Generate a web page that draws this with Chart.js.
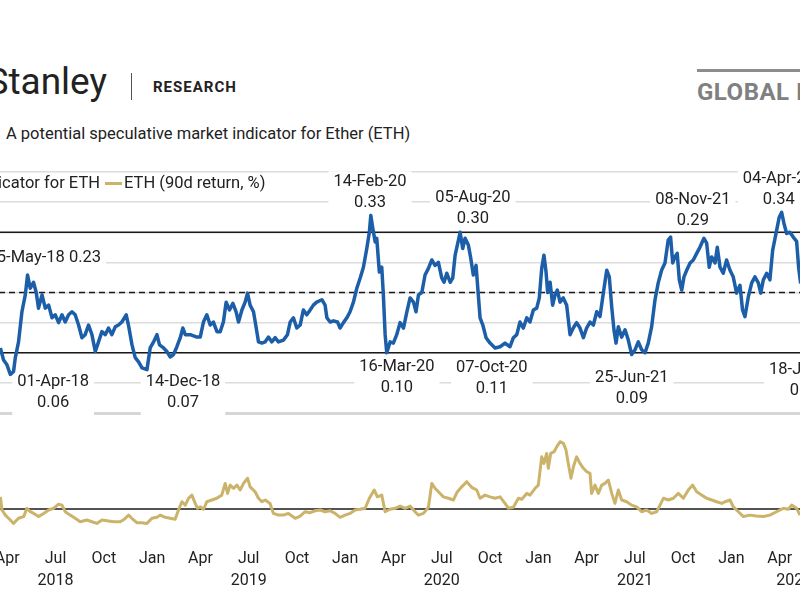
<!DOCTYPE html>
<html>
<head>
<meta charset="utf-8">
<script src="https://cdn.jsdelivr.net/npm/chart.js@4.4.1/dist/chart.umd.min.js"></script>
<style>
  body { margin:0; width:800px; height:600px; overflow:hidden; position:relative; background:#fff; font-family:Roboto, sans-serif; color:#222; }
  .abs { position:absolute; white-space:nowrap; }
</style>
</head>
<body>
<div class="abs" style="right:693px; top:62px; font-size:37px; line-height:40px; color:#222;">Morgan Stanley</div>
<div class="abs" style="left:131px; top:73px; width:1px; height:27px; background:#555;"></div>
<div class="abs" style="left:153px; top:78px; font-size:15px; line-height:18px; font-weight:bold; letter-spacing:1px;">RESEARCH</div>
<div class="abs" style="left:697px; top:69px; width:200px; height:3px; background:#8c8c8c;"></div>
<div class="abs" style="left:697px; top:78px; font-size:24px; line-height:28px; font-weight:bold; color:#808080; letter-spacing:0.5px;">GLOBAL INVESTMENT COMMITTEE</div>
<div class="abs" style="left:6px; top:124px; font-size:16.5px; line-height:20px;">A potential speculative market indicator for Ether (ETH)</div>

<div class="abs" style="left:-41px; top:162px; width:869px; height:258px;"><canvas id="topChart"></canvas></div>
<div class="abs" style="left:-41px; top:420px; width:869px; height:180px;"><canvas id="bottomChart"></canvas></div>

<div class="abs" style="right:700px; top:173px; font-size:16.5px; line-height:20px;">Speculative indicator for ETH</div>
<div class="abs" style="left:105px; top:182px; width:17px; height:3px; background:#cbb36a;"></div>
<div class="abs" style="left:124px; top:173px; font-size:16.5px; line-height:20px;">ETH (90d return, %)</div>

<script>
// x = months since Jan 2018
const monthMin = 0;
const monthMax = 54;

// speculative indicator for ETH
const indicatorMonths = [
  2.57, 2.77, 2.98, 3.19, 3.39, 3.50, 3.70, 3.91, 4.12, 4.26, 4.43, 4.63, 4.80, 4.94, 5.16, 5.36, 5.57, 5.78, 5.98, 6.19,
  6.40, 6.60, 6.81, 7.02, 7.22, 7.43, 7.64, 7.84, 8.05, 8.26, 8.47, 8.67, 8.88, 9.09, 9.29, 9.50, 9.71, 9.91, 10.12, 10.39,
  10.53, 10.75, 10.95, 11.16, 11.37, 11.68, 11.88, 12.09, 12.30, 12.46, 12.71, 12.92, 13.12, 13.33, 13.54, 13.75, 13.91, 14.06, 14.37, 14.78,
  14.99, 15.19, 15.40, 15.61, 15.81, 16.03, 16.23, 16.43, 16.60, 16.81, 17.02, 17.22, 17.37, 17.58, 17.78, 17.93, 18.09, 18.30, 18.47, 18.61,
  18.82, 19.02, 19.23, 19.44, 19.65, 19.85, 20.16, 20.41, 20.58, 20.78, 20.99, 21.20, 21.40, 21.61, 21.82, 22.02, 22.23, 22.55, 22.75, 22.86,
  23.06, 23.27, 23.52, 23.68, 23.89, 24.10, 24.30, 24.51, 24.72, 24.93, 25.13, 25.34, 25.50, 25.59, 25.71, 25.86, 25.96, 26.12, 26.27, 26.37,
  26.48, 26.58, 26.79, 26.99, 27.20, 27.41, 27.62, 27.83, 28.03, 28.24, 28.40, 28.55, 28.76, 28.96, 29.17, 29.38, 29.58, 29.79, 30.00, 30.14,
  30.31, 30.52, 30.68, 30.83, 30.97, 31.14, 31.30, 31.45, 31.65, 31.80, 31.96, 32.13, 32.27, 32.38, 32.55, 32.75, 33.00, 33.31, 33.62, 33.93,
  34.24, 34.45, 34.66, 34.86, 35.07, 35.28, 35.48, 35.69, 35.90, 36.06, 36.21, 36.35, 36.48, 36.58, 36.73, 36.89, 37.04, 37.18, 37.35, 37.55,
  37.76, 37.97, 38.17, 38.38, 38.59, 38.80, 39.00, 39.21, 39.42, 39.63, 39.83, 40.04, 40.25, 40.41, 40.56, 40.70, 40.83, 40.97, 41.18, 41.39,
  41.59, 41.80, 42.01, 42.21, 42.42, 42.63, 42.83, 43.04, 43.25, 43.45, 43.66, 43.87, 44.07, 44.22, 44.35, 44.49, 44.63, 44.76, 44.91, 45.05,
  45.22, 45.43, 45.63, 45.84, 46.04, 46.29, 46.46, 46.62, 46.77, 46.98, 47.12, 47.29, 47.49, 47.70, 47.91, 48.11, 48.32, 48.53, 48.69, 48.84,
  49.05, 49.26, 49.46, 49.67, 49.82, 49.98, 50.19, 50.39, 50.56, 50.77, 50.97, 51.12, 51.26, 51.43, 51.63, 51.84, 52.05, 52.18, 52.30
];
const indicatorLevels = [
  0.108, 0.088, 0.080, 0.064, 0.069, 0.092, 0.118, 0.168, 0.196, 0.229, 0.207, 0.217, 0.200, 0.174, 0.196, 0.174, 0.179, 0.158, 0.163, 0.150,
  0.163, 0.151, 0.163, 0.168, 0.163, 0.146, 0.125, 0.130, 0.146, 0.130, 0.102, 0.118, 0.135, 0.130, 0.141, 0.130, 0.143, 0.146, 0.151, 0.163,
  0.146, 0.113, 0.092, 0.085, 0.075, 0.072, 0.108, 0.118, 0.130, 0.113, 0.108, 0.102, 0.093, 0.097, 0.110, 0.125, 0.141, 0.130, 0.130, 0.126,
  0.126, 0.151, 0.163, 0.146, 0.151, 0.135, 0.135, 0.151, 0.184, 0.171, 0.182, 0.168, 0.151, 0.171, 0.184, 0.199, 0.179, 0.168, 0.141, 0.118,
  0.116, 0.118, 0.126, 0.118, 0.125, 0.118, 0.121, 0.130, 0.151, 0.158, 0.141, 0.146, 0.171, 0.163, 0.171, 0.179, 0.184, 0.188, 0.179, 0.158,
  0.151, 0.153, 0.151, 0.141, 0.150, 0.158, 0.168, 0.184, 0.207, 0.224, 0.242, 0.273, 0.300, 0.328, 0.307, 0.284, 0.290, 0.234, 0.242, 0.196,
  0.130, 0.100, 0.118, 0.116, 0.130, 0.150, 0.141, 0.168, 0.191, 0.184, 0.168, 0.196, 0.200, 0.229, 0.240, 0.254, 0.245, 0.250, 0.224, 0.217,
  0.232, 0.217, 0.224, 0.262, 0.279, 0.300, 0.273, 0.290, 0.279, 0.257, 0.229, 0.245, 0.196, 0.158, 0.146, 0.125, 0.116, 0.108, 0.110, 0.116,
  0.110, 0.125, 0.130, 0.151, 0.141, 0.158, 0.151, 0.171, 0.174, 0.191, 0.240, 0.262, 0.234, 0.200, 0.217, 0.179, 0.196, 0.204, 0.184, 0.191,
  0.179, 0.130, 0.141, 0.150, 0.141, 0.125, 0.141, 0.151, 0.146, 0.168, 0.160, 0.199, 0.237, 0.226, 0.176, 0.138, 0.116, 0.143, 0.126, 0.138,
  0.121, 0.097, 0.105, 0.118, 0.105, 0.100, 0.116, 0.143, 0.188, 0.216, 0.237, 0.249, 0.287, 0.292, 0.249, 0.259, 0.265, 0.221, 0.204, 0.226,
  0.237, 0.249, 0.254, 0.265, 0.275, 0.290, 0.282, 0.242, 0.259, 0.249, 0.275, 0.242, 0.232, 0.254, 0.237, 0.226, 0.199, 0.212, 0.171, 0.160,
  0.193, 0.216, 0.226, 0.216, 0.199, 0.221, 0.232, 0.221, 0.270, 0.298, 0.325, 0.333, 0.315, 0.298, 0.300, 0.292, 0.285, 0.240, 0.215
];

// ETH 90-day return, %
const ethMonths = [
  2.57, 2.67, 2.88, 3.19, 3.39, 3.70, 4.02, 4.22, 4.43, 4.64, 4.95, 5.26, 5.57, 5.88, 6.19, 6.40, 6.60, 6.91, 7.22, 7.53,
  7.95, 8.26, 8.57, 8.88, 9.19, 9.61, 10.02, 10.27, 10.54, 10.74, 11.05, 11.36, 11.68, 11.99, 12.30, 12.50, 12.81, 13.12, 13.43, 13.64,
  13.85, 14.06, 14.26, 14.47, 14.68, 14.82, 14.99, 15.20, 15.40, 15.71, 16.02, 16.33, 16.54, 16.69, 16.85, 17.06, 17.27, 17.47, 17.68, 17.93,
  18.09, 18.40, 18.61, 18.82, 19.03, 19.33, 19.54, 19.85, 20.16, 20.47, 20.89, 21.20, 21.51, 21.82, 22.13, 22.44, 22.75, 23.06, 23.37, 23.68,
  23.99, 24.30, 24.61, 24.93, 25.24, 25.50, 25.80, 26.00, 26.27, 26.48, 26.79, 27.10, 27.41, 27.72, 28.03, 28.34, 28.55, 28.86, 29.17, 29.38,
  29.58, 29.79, 30.10, 30.41, 30.72, 30.97, 31.24, 31.55, 31.86, 32.17, 32.38, 32.69, 33.00, 33.32, 33.62, 33.93, 34.14, 34.45, 34.76, 34.97,
  35.28, 35.48, 35.80, 36.00, 36.21, 36.35, 36.52, 36.62, 36.77, 36.98, 37.14, 37.35, 37.56, 37.72, 37.86, 38.03, 38.18, 38.38, 38.59, 38.80,
  39.01, 39.21, 39.31, 39.52, 39.73, 39.94, 40.14, 40.35, 40.56, 40.76, 40.97, 41.18, 41.49, 41.80, 42.11, 42.42, 42.73, 43.04, 43.35, 43.56,
  43.77, 44.08, 44.39, 44.70, 45.01, 45.32, 45.59, 45.84, 46.15, 46.46, 46.77, 47.08, 47.40, 47.60, 47.91, 48.12, 48.43, 48.74, 49.15, 49.56,
  49.98, 50.39, 50.80, 51.22, 51.53, 51.74, 52.05, 52.26
];
const ethReturns = [
  50, -4, -25, -45, -59, -38, -31, 3, -11, -18, -31, -18, -4, 3, 20, 16, -11, -25, -38, -52,
  -45, -52, -59, -45, -48, -52, -52, -42, -25, -38, -56, -56, -59, -38, -34, -25, -34, -38, -42, -4,
  30, 16, 44, 57, 23, 3, 9, -1, 30, 37, 44, 57, 105, 64, 98, 85, 98, 78, 105, 126,
  91, 71, 44, 30, 37, 23, -18, -25, -25, -18, -38, -29, -11, -15, -7, -4, -11, -7, -18, -34,
  -25, -18, -4, -1, 3, 44, 78, 50, 57, -11, -1, 3, 12, 3, 12, -11, -25, -18, 7, 105,
  85, 71, 50, 44, 37, 71, 91, 112, 89, 78, 44, 57, 50, 44, 50, 23, 3, 7, 44, 40,
  64, 57, 85, 98, 214, 187, 228, 167, 228, 235, 255, 276, 269, 242, 187, 126, 173, 214, 187, 167,
  153, 146, 64, 98, 64, 98, 105, 119, 64, 23, 78, 37, 30, 16, 9, -11, -4, -18, -11, 16,
  44, 37, 44, 64, 44, 78, 98, 71, 57, 44, 37, 30, 23, 30, 37, 9, -11, -31, -25, -29,
  -31, -25, -11, 3, -1, 16, 3, -25
];

// reference levels on the indicator panel
const solidLevels = [0.10, 0.30];
const dashedLevels = [0.20];

// x-axis ticks
const tickMonths = [3, 6, 9, 12, 15, 18, 21, 24, 27, 30, 33, 36, 39, 42, 45, 48, 51];
const tickLabels = ['Apr', 'Jul', 'Oct', 'Jan', 'Apr', 'Jul', 'Oct', 'Jan', 'Apr', 'Jul', 'Oct', 'Jan', 'Apr', 'Jul', 'Oct', 'Jan', 'Apr'];
const yearMonths = [6, 18, 30, 42, 51.9];
const yearLabels = ['2018', '2019', '2020', '2021', '2022'];

// callouts
const calloutDates = ['15-May-18 0.23', '01-Apr-18', '14-Dec-18', '14-Feb-20', '16-Mar-20', '05-Aug-20', '07-Oct-20', '25-Jun-21', '08-Nov-21', '04-Apr-22', '18-Jun-22'];
const calloutValues = ['', '0.06', '0.07', '0.33', '0.10', '0.30', '0.11', '0.09', '0.29', '0.34', '0.08'];
const calloutX = [5.30, 5.85, 13.92, 25.54, 27.21, 31.93, 33.11, 41.81, 45.60, 50.94, 52.62];
const calloutY = [0.257, 0.051, 0.051, 0.383, 0.076, 0.357, 0.075, 0.058, 0.354, 0.388, 0.071];

const blue = '#1c5ea8';
const gold = '#cbb36a';

Chart.defaults.font.family = 'Roboto';
Chart.defaults.font.size = 16;
Chart.defaults.color = '#222';
Chart.defaults.animation = false;

const toPoints = (xs, ys) => xs.map((x, i) => ({ x: x, y: ys[i] }));
const flat = v => [{ x: monthMin, y: v }, { x: monthMax, y: v }];

const calloutPlugin = {
  id: 'callouts',
  beforeDatasetsDraw(chart) {
    const ctx = chart.ctx;
    const xs = chart.scales.x, ys = chart.scales.y;
    ctx.save();
    ctx.font = '16.5px Roboto';
    ctx.textAlign = 'center';
    ctx.textBaseline = 'middle';
    calloutDates.forEach((d, i) => {
      const cx = xs.getPixelForValue(calloutX[i]);
      const cy = ys.getPixelForValue(calloutY[i]);
      const w = Math.max(ctx.measureText(d).width, ctx.measureText(calloutValues[i]).width) + 10;
      const h = calloutValues[i] ? 44 : 22;
      ctx.fillStyle = '#fff';
      ctx.fillRect(cx - w / 2, cy - 11, w, h);
      ctx.fillStyle = '#222';
      ctx.fillText(d, cx, cy);
      if (calloutValues[i]) ctx.fillText(calloutValues[i], cx, cy + 21);
    });
    ctx.restore();
  }
};

new Chart(document.getElementById('topChart'), {
  type: 'line',
  data: {
    datasets: [
      { data: toPoints(indicatorMonths, indicatorLevels), borderColor: blue, borderWidth: 3.5, pointRadius: 0, tension: 0, borderJoinStyle: 'round', order: 0 },
      ...solidLevels.map(v => ({ data: flat(v), borderColor: '#1a1a1a', borderWidth: 1.5, pointRadius: 0, order: 1 })),
      ...dashedLevels.map(v => ({ data: flat(v), borderColor: '#1a1a1a', borderWidth: 1.5, borderDash: [6, 4], pointRadius: 0, order: 1 }))
    ]
  },
  options: {
    responsive: true,
    maintainAspectRatio: false,
    layout: { padding: { top: 10, bottom: 7, left: 0, right: 0 } },
    plugins: { legend: { display: false }, tooltip: { enabled: false } },
    scales: {
      x: { type: 'linear', min: monthMin, max: monthMax, display: false },
      y: {
        min: 0, max: 0.4,
        ticks: { display: false, stepSize: 0.05 },
        border: { display: false },
        grid: {
          drawTicks: false,
          color: c => c.tick.value === 0 ? '#d6d6d6' : '#dcdcdc',
          lineWidth: c => c.tick.value === 0 ? 3 : 1.5
        }
      }
    }
  },
  plugins: [calloutPlugin]
});

new Chart(document.getElementById('bottomChart'), {
  type: 'line',
  data: {
    datasets: [
      { data: toPoints(ethMonths, ethReturns), borderColor: gold, borderWidth: 3, pointRadius: 0, tension: 0, borderJoinStyle: 'round', order: 0 },
      { data: flat(0), borderColor: '#1a1a1a', borderWidth: 1.5, pointRadius: 0, order: 1 }
    ]
  },
  options: {
    responsive: true,
    maintainAspectRatio: false,
    layout: { padding: { top: 0, bottom: 8, left: 0, right: 0 } },
    plugins: { legend: { display: false }, tooltip: { enabled: false } },
    scales: {
      x: {
        type: 'linear', min: monthMin, max: monthMax, position: 'bottom',
        grid: { display: false }, border: { display: false },
        afterBuildTicks: axis => { axis.ticks = tickMonths.map(v => ({ value: v })); },
        afterFit: axis => { axis.height = 36; },
        ticks: { autoSkip: false, maxRotation: 0, padding: 11, callback: (v, i) => tickLabels[i] }
      },
      years: {
        type: 'linear', min: monthMin, max: monthMax, position: 'bottom',
        grid: { display: false }, border: { display: false },
        afterBuildTicks: axis => { axis.ticks = yearMonths.map(v => ({ value: v })); },
        afterFit: axis => { axis.height = 26; },
        ticks: { autoSkip: false, maxRotation: 0, padding: -3, callback: (v, i) => yearLabels[i] }
      },
      y: { min: -86, max: 365, display: false }
    }
  }
});
</script>
</body>
</html>
